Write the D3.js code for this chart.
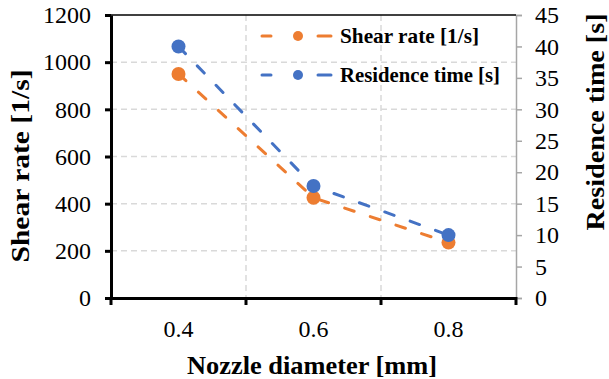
<!DOCTYPE html>
<html>
<head>
<meta charset="utf-8">
<script src="https://cdn.jsdelivr.net/npm/d3@7"></script>
<style>
  body { margin: 0; background: #fff; }
  svg text { font-family: 'Liberation Serif', 'Times New Roman', serif !important; fill: #000; }
</style>
</head>
<body>
<div id="chart"></div>
<script>
const categories = ['0.4', '0.6', '0.8'];
const shearRate = [950, 425, 235];
const residenceTime = [40, 17.8, 10];
const leftTicks = [0, 200, 400, 600, 800, 1000, 1200];
const rightTicks = [0, 5, 10, 15, 20, 25, 30, 35, 40, 45];

const width = 609, height = 379;
const margin = { left: 111, right: 93, top: 15, bottom: 81 };
const orange = '#ED7D31', blue = '#4472C4', grid = '#d9d9d9';
const serif = "'Liberation Serif', 'Times New Roman', serif";

const svg = d3.select('#chart').append('svg')
  .attr('width', width)
  .attr('height', height)
  .attr('font-family', serif);

const x = d3.scaleBand()
  .domain(categories)
  .range([margin.left, width - margin.right])
  .paddingInner(0);

const yL = d3.scaleLinear().domain([0, 1200]).range([height - margin.bottom, margin.top]);
const yR = d3.scaleLinear().domain([0, 45]).range([height - margin.bottom, margin.top]);

const x0 = margin.left, x1 = width - margin.right;
const yb = height - margin.bottom, yt = margin.top;

// grid
svg.append('g').selectAll('line')
  .data(leftTicks.filter(d => d > 0 && d < 1200))
  .join('line')
  .attr('x1', x0).attr('x2', x1)
  .attr('y1', d => yL(d)).attr('y2', d => yL(d))
  .attr('stroke', grid).attr('stroke-width', 1.5).attr('stroke-dasharray', '6,4');

svg.append('g').selectAll('line')
  .data(categories.slice(1))
  .join('line')
  .attr('x1', d => x(d)).attr('x2', d => x(d))
  .attr('y1', yt).attr('y2', yb)
  .attr('stroke', grid).attr('stroke-width', 1.5).attr('stroke-dasharray', '6,4');

// right axis (gray)
const rAxis = svg.append('g').attr('transform', `translate(${x1},0)`)
  .call(d3.axisRight(yR).tickValues(rightTicks).tickSize(6).tickPadding(13).tickFormat(d3.format('d')));
rAxis.attr('font-family', serif);
rAxis.select('.domain').attr('stroke', '#a6a6a6').attr('stroke-width', 1.5);
rAxis.selectAll('.tick line').attr('stroke', '#a6a6a6').attr('stroke-width', 1.5);
rAxis.selectAll('text').style('font-size', '24px').attr('fill', '#000');

// top border
svg.append('line').attr('x1', x0).attr('x2', x1).attr('y1', yt).attr('y2', yt)
  .attr('stroke', '#000').attr('stroke-width', 1.5);

// left axis
const lAxis = svg.append('g').attr('transform', `translate(${x0},0)`)
  .call(d3.axisLeft(yL).tickValues(leftTicks).tickSize(6).tickSizeOuter(0).tickPadding(14).tickFormat(d3.format('d')));
lAxis.attr('font-family', serif);
lAxis.select('.domain').attr('stroke', '#000').attr('stroke-width', 3);
lAxis.selectAll('.tick line').attr('stroke', '#000').attr('stroke-width', 3);
lAxis.selectAll('text').style('font-size', '24px');

// bottom axis
const bAxis = svg.append('g').attr('transform', `translate(0,${yb})`)
  .call(d3.axisBottom(x).tickSize(0).tickPadding(22));
bAxis.attr('font-family', serif);
bAxis.select('.domain').attr('stroke', '#000').attr('stroke-width', 3);
bAxis.selectAll('text').style('font-size', '24px');
const edges = categories.map(c => x(c)).concat([x1]);
bAxis.selectAll('.edge').data(edges).join('line')
  .attr('class', 'edge')
  .attr('x1', d => d).attr('x2', d => d)
  .attr('y1', -1).attr('y2', 7)
  .attr('stroke', '#000').attr('stroke-width', 3);

// series
const cx = c => x(c) + x.bandwidth() / 2;
const series = [
  { name: 'Shear rate [1/s]', values: shearRate, scale: yL, color: orange },
  { name: 'Residence time [s]', values: residenceTime, scale: yR, color: blue }
];

series.forEach(s => {
  const line = d3.line().x((d, i) => cx(categories[i])).y(d => s.scale(d));
  svg.append('path').datum(s.values)
    .attr('d', line)
    .attr('fill', 'none')
    .attr('stroke', s.color)
    .attr('stroke-width', 3)
    .attr('stroke-linecap', 'round')
    .attr('stroke-dasharray', '10,17');
  svg.append('g').selectAll('circle').data(s.values).join('circle')
    .attr('cx', (d, i) => cx(categories[i]))
    .attr('cy', d => s.scale(d))
    .attr('r', 7)
    .attr('fill', s.color);
});

// legend
const legend = svg.append('g');
const legendLen = [139, 160];
series.forEach((s, i) => {
  const ly = 36 + i * 39;
  const g = legend.append('g');
  g.append('line').attr('x1', 262).attr('x2', 331).attr('y1', ly).attr('y2', ly)
    .attr('stroke', s.color).attr('stroke-width', 3)
    .attr('stroke-linecap', 'round')
    .attr('stroke-dasharray', '9,47,14');
  g.append('circle').attr('cx', 298).attr('cy', ly).attr('r', 5).attr('fill', s.color);
  g.append('text').attr('x', 340).attr('y', ly).attr('dy', '0.35em')
    .style('font-size', '21px').style('font-weight', 'bold')
    .attr('textLength', legendLen[i]).attr('lengthAdjust', 'spacingAndGlyphs')
    .text(s.name);
});

// axis titles
svg.append('text')
  .attr('transform', `translate(29,166) rotate(-90)`)
  .attr('text-anchor', 'middle')
  .style('font-size', '25px').style('font-weight', 'bold')
  .attr('textLength', 193).attr('lengthAdjust', 'spacingAndGlyphs')
  .text('Shear rate [1/s]');

svg.append('text')
  .attr('transform', `translate(604,122) rotate(-90)`)
  .attr('text-anchor', 'middle')
  .style('font-size', '25px').style('font-weight', 'bold')
  .attr('textLength', 217).attr('lengthAdjust', 'spacingAndGlyphs')
  .text('Residence time [s]');

svg.append('text')
  .attr('x', 312).attr('y', 374)
  .attr('text-anchor', 'middle')
  .style('font-size', '25px').style('font-weight', 'bold')
  .attr('textLength', 250).attr('lengthAdjust', 'spacingAndGlyphs')
  .text('Nozzle diameter  [mm]');
</script>
</body>
</html>
